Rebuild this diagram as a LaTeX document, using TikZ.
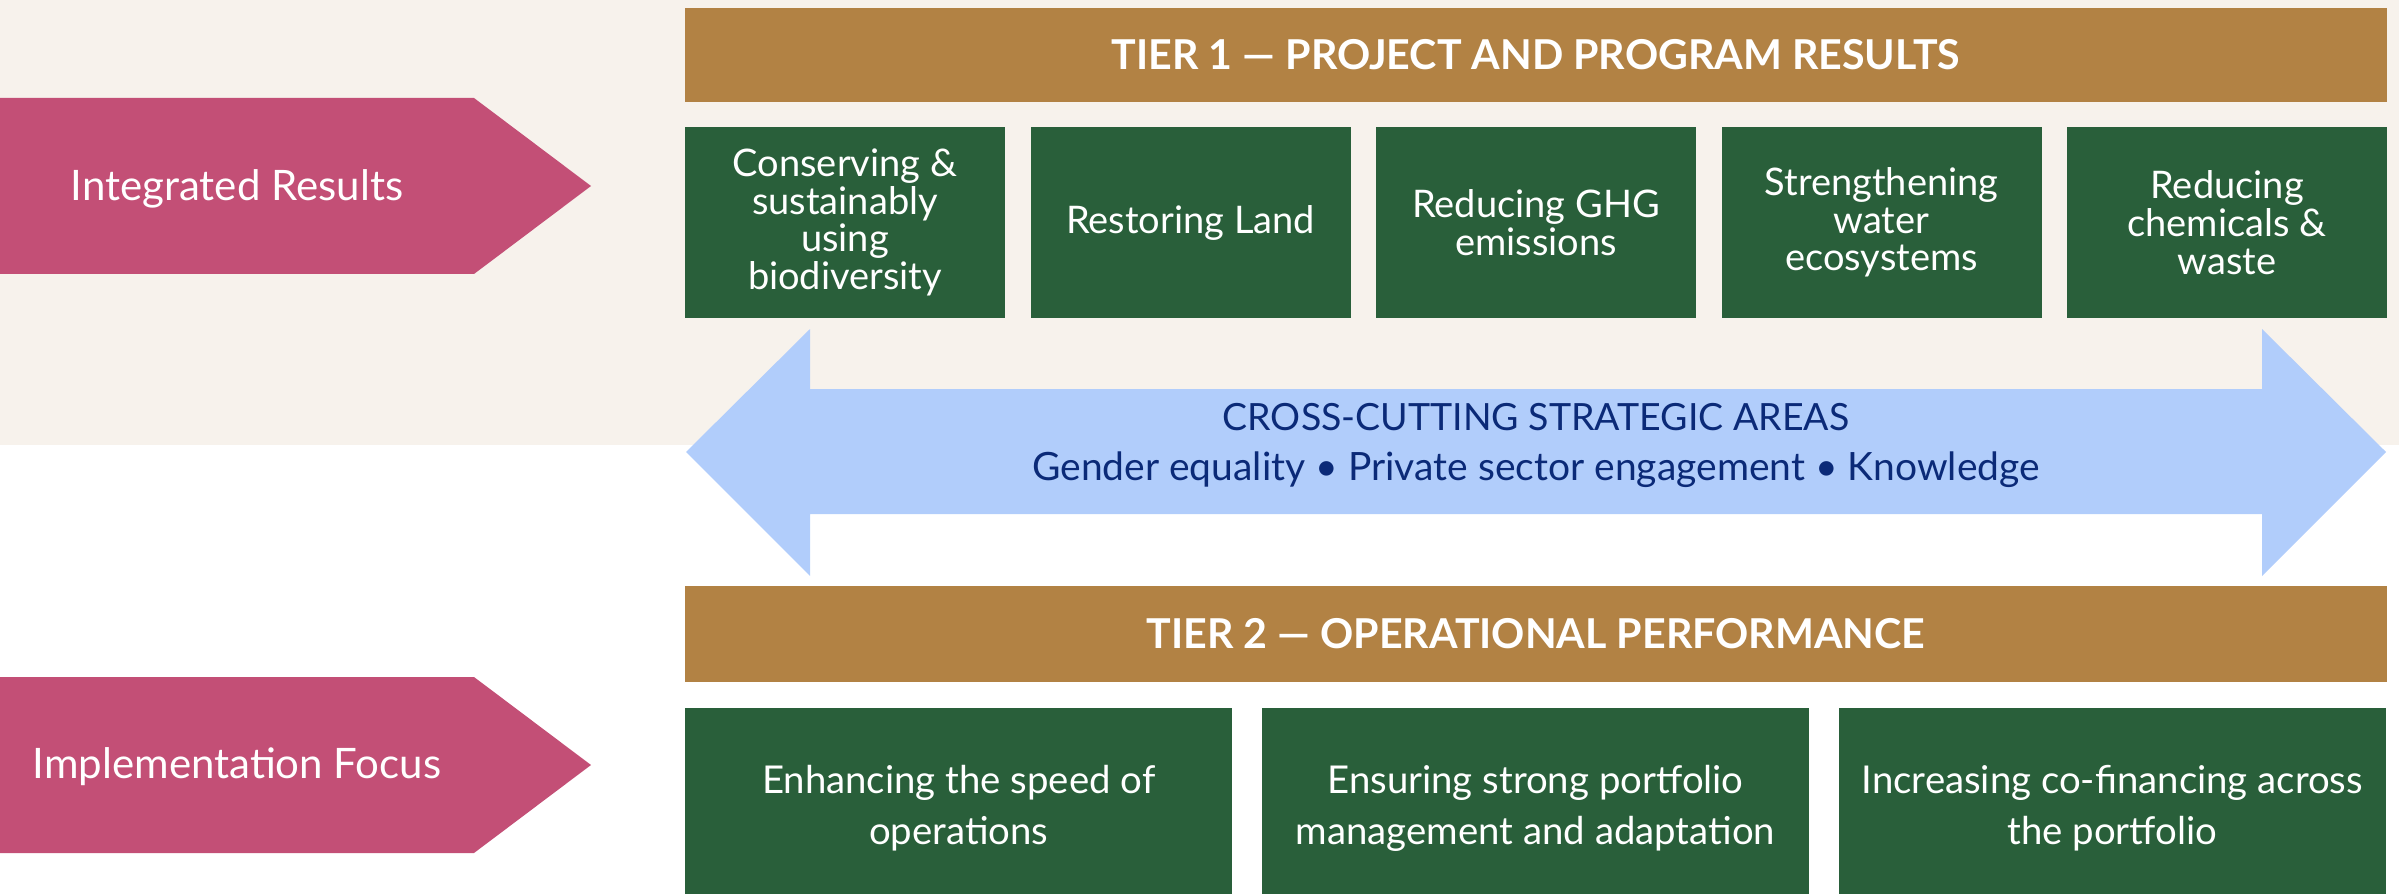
\documentclass[tikz,border=0pt]{standalone}
\usepackage{fontspec}
\setmainfont{Lato}
\definecolor{bgc}{HTML}{F7F2EC}
\definecolor{pinkc}{HTML}{C34F76}
\definecolor{tanc}{HTML}{B28244}
\definecolor{grnc}{HTML}{295F3A}
\definecolor{lbluec}{HTML}{B1CDFB}
\definecolor{navyc}{HTML}{0B2A78}
\tikzset{
  tierbar/.style={fill=tanc, draw=none, inner sep=0pt, minimum width=510.6pt, text=white,
    font=\fontsize{12.35}{14}\selectfont\bfseries},
  gboxa/.style={fill=grnc, draw=none, inner sep=0pt, minimum width=96pt, minimum height=57.3pt,
    text=white, align=center, font=\fontsize{11.4}{11.3}\selectfont},
  gboxb/.style={fill=grnc, draw=none, inner sep=0pt, minimum width=164.2pt, minimum height=60pt,
    text=white, align=center, font=\fontsize{11.5}{15.3}\selectfont},
  pinklabel/.style={text=white, inner sep=0pt, font=\fontsize{12.6}{14}\selectfont},
  bluelabel/.style={text=navyc, inner sep=0pt},
  pinkarrow/.style={fill=pinkc, draw=none},
  bluearrow/.style={fill=lbluec, draw=none}
}
\begin{document}
\begin{tikzpicture}[x=0.3pt, y=-0.3pt]
\useasboundingbox (0,0) rectangle (2399,894);
\clip (0,0) rectangle (2399,894);
% background band
\fill[bgc] (0,0) rectangle (2399,445);
% pink arrows
\fill[pinkarrow] (0,98) -- (474,98) -- (591,186) -- (474,274) -- (0,274) -- cycle;
\node[pinklabel] (intres) at (237,189) {Integrated Results};
\fill[pinkarrow] (0,677) -- (474,677) -- (591,765) -- (474,853) -- (0,853) -- cycle;
\node[pinklabel] (implfocus) at (237,767) {Implementation Focus};
% tier 1
\node[tierbar, minimum height=28.2pt] (tier1) at (1536,55) {TIER 1 — PROJECT AND PROGRAM RESULTS};
\node[gboxa] (b1) at (845,222.5) {Conserving \&\\sustainably\\using\\biodiversity};
\node[gboxa] (b2) at (1190.5,222.5) {Restoring Land};
\node[gboxa] (b3) at (1536,222.5) {Reducing GHG\\emissions};
\node[gboxa] (b4) at (1881.5,222.5) {Strengthening\\water\\ecosystems};
\node[gboxa] (b5) at (2227,222.5) {Reducing\\chemicals \&\\waste};
% cross-cutting double arrow
\fill[bluearrow] (686,452) -- (810,329) -- (810,389) -- (2262,389) -- (2262,329) -- (2386,452)
  -- (2262,576) -- (2262,514) -- (810,514) -- (810,576) -- cycle;
\node[bluelabel, font=\fontsize{11.25}{13}\selectfont] (cc1) at (1536,417) {CROSS-CUTTING STRATEGIC AREAS};
\node[bluelabel, font=\fontsize{11.7}{13}\selectfont] (cc2) at (1536,470) {Gender equality • Private sector engagement • Knowledge};
% tier 2
\node[tierbar, minimum height=28.8pt] (tier2) at (1536,634) {TIER 2 — OPERATIONAL PERFORMANCE};
\node[gboxb] (c1) at (958.7,808) {Enhancing the speed of\\operations};
\node[gboxb] (c2) at (1535.5,808) {Ensuring strong portfolio\\management and adaptation};
\node[gboxb] (c3) at (2112.3,808) {Increasing co-financing across\\the portfolio};
\end{tikzpicture}
\end{document}
